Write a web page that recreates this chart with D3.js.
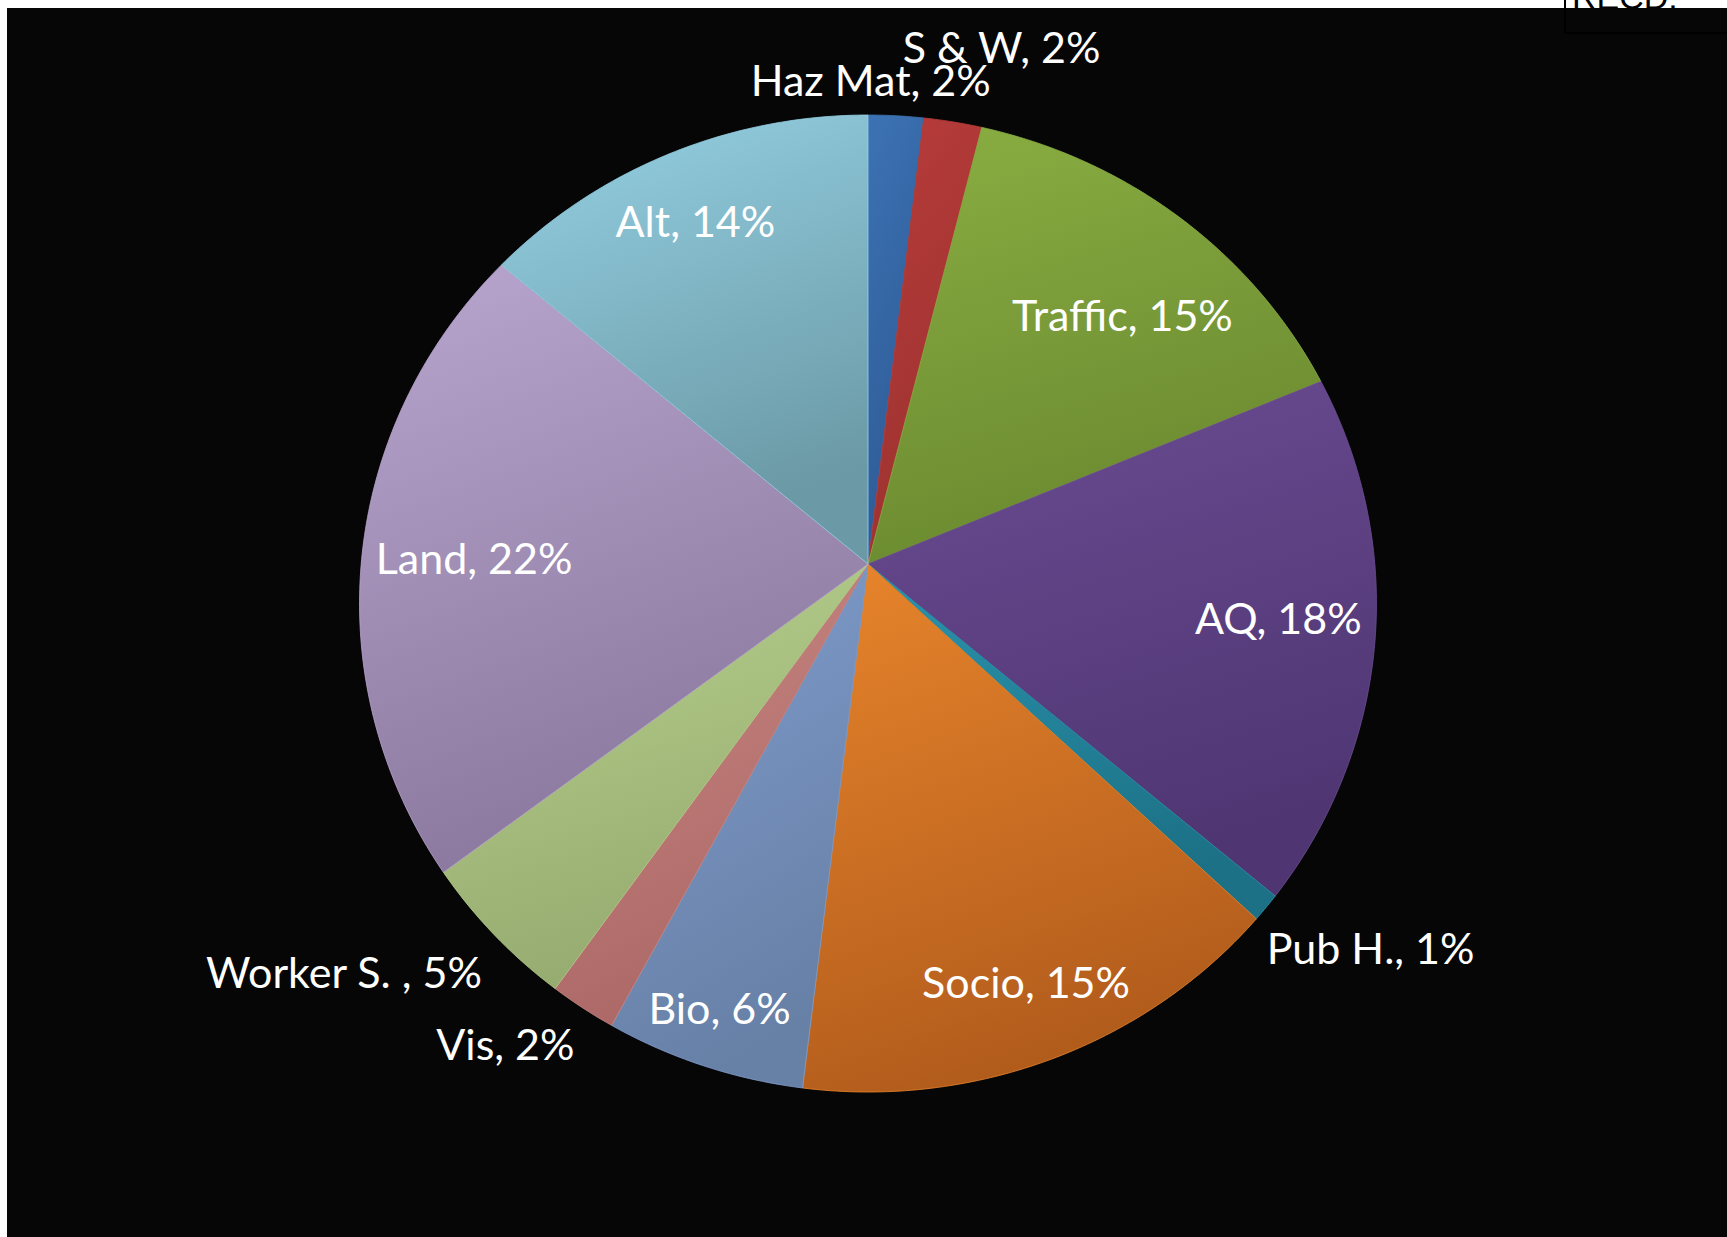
<!DOCTYPE html>
<html>
<head>
<meta charset="utf-8">
<script src="https://cdn.jsdelivr.net/npm/d3@7"></script>
<style>
  body { margin: 0; background: #fff; }
  svg { display: block; }
</style>
</head>
<body>
<div id="chart"></div>
<script>
// Data, clockwise from 12 o'clock
const categories = ["Haz Mat", "S & W", "Traffic", "AQ", "Pub H.", "Socio", "Bio", "Vis", "Worker S. ", "Land", "Alt"];
const values = [1.9, 2.0, 14.8, 17.6, 0.9, 14.8, 5.9, 2.0, 4.9, 21.6, 13.8];

// slice colours (top of gradient, bottom of gradient)
const topColors = ["#3c72b4", "#b83c3a", "#8aae42", "#6c4c93", "#2a93ac", "#e8852c", "#809dce", "#c98884", "#b7d18d", "#b9a6cf", "#95d1e4"];
const bottomColors = ["#2e5a94", "#9c3230", "#6b8a30", "#4f3673", "#1c7186", "#b25c1c", "#6780a6", "#ac6866", "#96ab70", "#8a789e", "#6b99a5"];

// label placement: angle shift (deg) from slice middle, radius factor
const labelShift = [-3.1, 3.5, 3.9, -0.8, -3.4, -0.1, 0.3, 4.2, 6.8, -0.9, -1.0];
const labelRadius = [1.082, 1.199, 0.747, 0.81, 1.193, 0.858, 0.896, 1.132, 1.249, 0.778, 0.83];

const W = 1727, H = 1237;
const cx = 868, cy = 564;    // pie vertex
const K = 506.8;             // horizontal radius
const C = 0.9576;            // tilt squash
const E = 0.0809;            // perspective strength

// tilted disc with perspective: a -> angle clockwise from top, f -> radius factor
function proj(a, f) {
  const d = 1 + E * f * Math.cos(a);
  return [cx + K * f * Math.sin(a) / d, cy - K * C * f * Math.cos(a) / d];
}

const svg = d3.select("#chart")
  .append("svg")
    .attr("width", W)
    .attr("height", H);

// stamp box in the corner (cut off)
svg.append("text")
  .attr("x", 1572)
  .attr("y", 9)
  .style("font-family", "Liberation Sans, Arial, sans-serif")
  .style("font-size", "34px")
  .attr("fill", "#000")
  .text("RECD.");

// black slide background
svg.append("rect")
  .attr("x", 7)
  .attr("y", 8)
  .attr("width", W - 7)
  .attr("height", H - 8)
  .attr("fill", "#060606");

svg.append("path")
  .attr("d", "M1565,0 V33 H1727")
  .attr("fill", "none")
  .attr("stroke", "#000")
  .attr("stroke-width", 2);

const pie = d3.pie().sort(null).value(d => d)(values);

const defs = svg.append("defs");
pie.forEach((d, i) => {
  const g = defs.append("linearGradient")
    .attr("id", "grad" + i)
    .attr("x1", 0).attr("y1", 0)
    .attr("x2", 0.3).attr("y2", 1);
  g.append("stop").attr("offset", "0%").attr("stop-color", topColors[i]);
  g.append("stop").attr("offset", "100%").attr("stop-color", bottomColors[i]);
});

const line = d3.line();

function slicePath(d) {
  const n = Math.max(4, Math.ceil((d.endAngle - d.startAngle) * 80));
  const pts = [[cx, cy]];
  for (let k = 0; k <= n; k++) {
    const a = d.startAngle + (d.endAngle - d.startAngle) * k / n;
    pts.push(proj(a, 1));
  }
  return line(pts) + "Z";
}

svg.append("g")
  .selectAll("path")
  .data(pie)
  .join("path")
    .attr("d", slicePath)
    .attr("fill", (d, i) => `url(#grad${i})`)
    .attr("stroke", (d, i) => topColors[i])
    .attr("stroke-width", 0.8);

const total = d3.sum(values);

svg.append("g")
  .selectAll("text")
  .data(pie)
  .join("text")
    .attr("transform", (d, i) => {
      const a = (d.startAngle + d.endAngle) / 2 + labelShift[i] * Math.PI / 180;
      const p = proj(a, labelRadius[i]);
      return `translate(${p[0]},${p[1]})`;
    })
    .attr("text-anchor", "middle")
    .attr("dy", "0.35em")
    .attr("fill", "#fff")
    .style("font-family", "Lato, 'Open Sans', sans-serif")
    .style("font-size", "43px")
    .style("white-space", "pre")
    .text((d, i) => `${categories[i]}, ${Math.round(d.value / total * 100)}%`);
</script>
</body>
</html>
